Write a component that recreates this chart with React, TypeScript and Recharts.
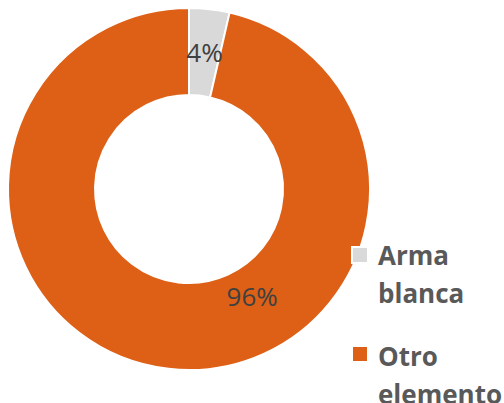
import React from "react";
import { PieChart, Pie, Cell, Legend } from "recharts";

const categories = ["Arma blanca", "Otro elemento"];
const values = [3.6, 96.4];
const colors = ["#D9D9D9", "#DD6016"];

const data = categories.map((name, i) => ({ name, value: values[i] }));

const RADIAN = Math.PI / 180;
const FONT = "'Open Sans', 'Liberation Sans', sans-serif";

const renderLabel = (props: any) => {
  const { cx, cy, midAngle, innerRadius, outerRadius, percent } = props;
  const big = percent > 0.5;
  const angle = big ? midAngle + 37 : midAngle;
  const r = big ? innerRadius + (outerRadius - innerRadius) * 0.35 : (innerRadius + outerRadius) / 2;
  const x = cx + r * Math.cos(-angle * RADIAN);
  const y = cy + r * Math.sin(-angle * RADIAN);
  return (
    <text
      x={x}
      y={y}
      textAnchor="middle"
      dominantBaseline="central"
      fill="#404040"
      fontSize={26}
      fontFamily={FONT}
    >
      {`${Math.round(percent * 100)}%`}
    </text>
  );
};

const renderLegend = () => (
  <div style={{ fontFamily: FONT }}>
    {data.map((d, i) => (
      <div key={d.name} style={{ display: "flex", alignItems: "flex-start", marginBottom: 25 }}>
        <div
          style={{
            width: 14,
            height: 14,
            background: colors[i],
            border: "2px solid #fff",
            marginTop: i === 0 ? 10 : 8,
            marginRight: 9,
            flexShrink: 0,
          }}
        />
        <div
          style={{
            width: 126,
            fontSize: 26,
            fontWeight: 700,
            color: "#595959",
            lineHeight: "38px",
          }}
        >
          {d.name}
        </div>
      </div>
    ))}
  </div>
);

export default function App() {
  return (
    <div style={{ position: "absolute", left: 0, top: 0, width: 504, height: 403, background: "#fff", overflow: "hidden" }}>
      <PieChart width={504} height={403} margin={{ top: 0, right: 0, bottom: 0, left: 0 }}>
        <Pie
          data={data}
          dataKey="value"
          nameKey="name"
          cx={189}
          cy={189}
          innerRadius={94}
          outerRadius={181}
          startAngle={90}
          endAngle={-270}
          stroke="#ffffff"
          strokeWidth={2}
          label={renderLabel}
          labelLine={false}
          isAnimationActive={false}
        >
          {data.map((d, i) => (
            <Cell key={d.name} fill={colors[i]} />
          ))}
        </Pie>
        <Legend
          content={renderLegend}
          wrapperStyle={{ position: "absolute", left: 351, top: 236, width: 153 }}
        />
      </PieChart>
    </div>
  );
}
